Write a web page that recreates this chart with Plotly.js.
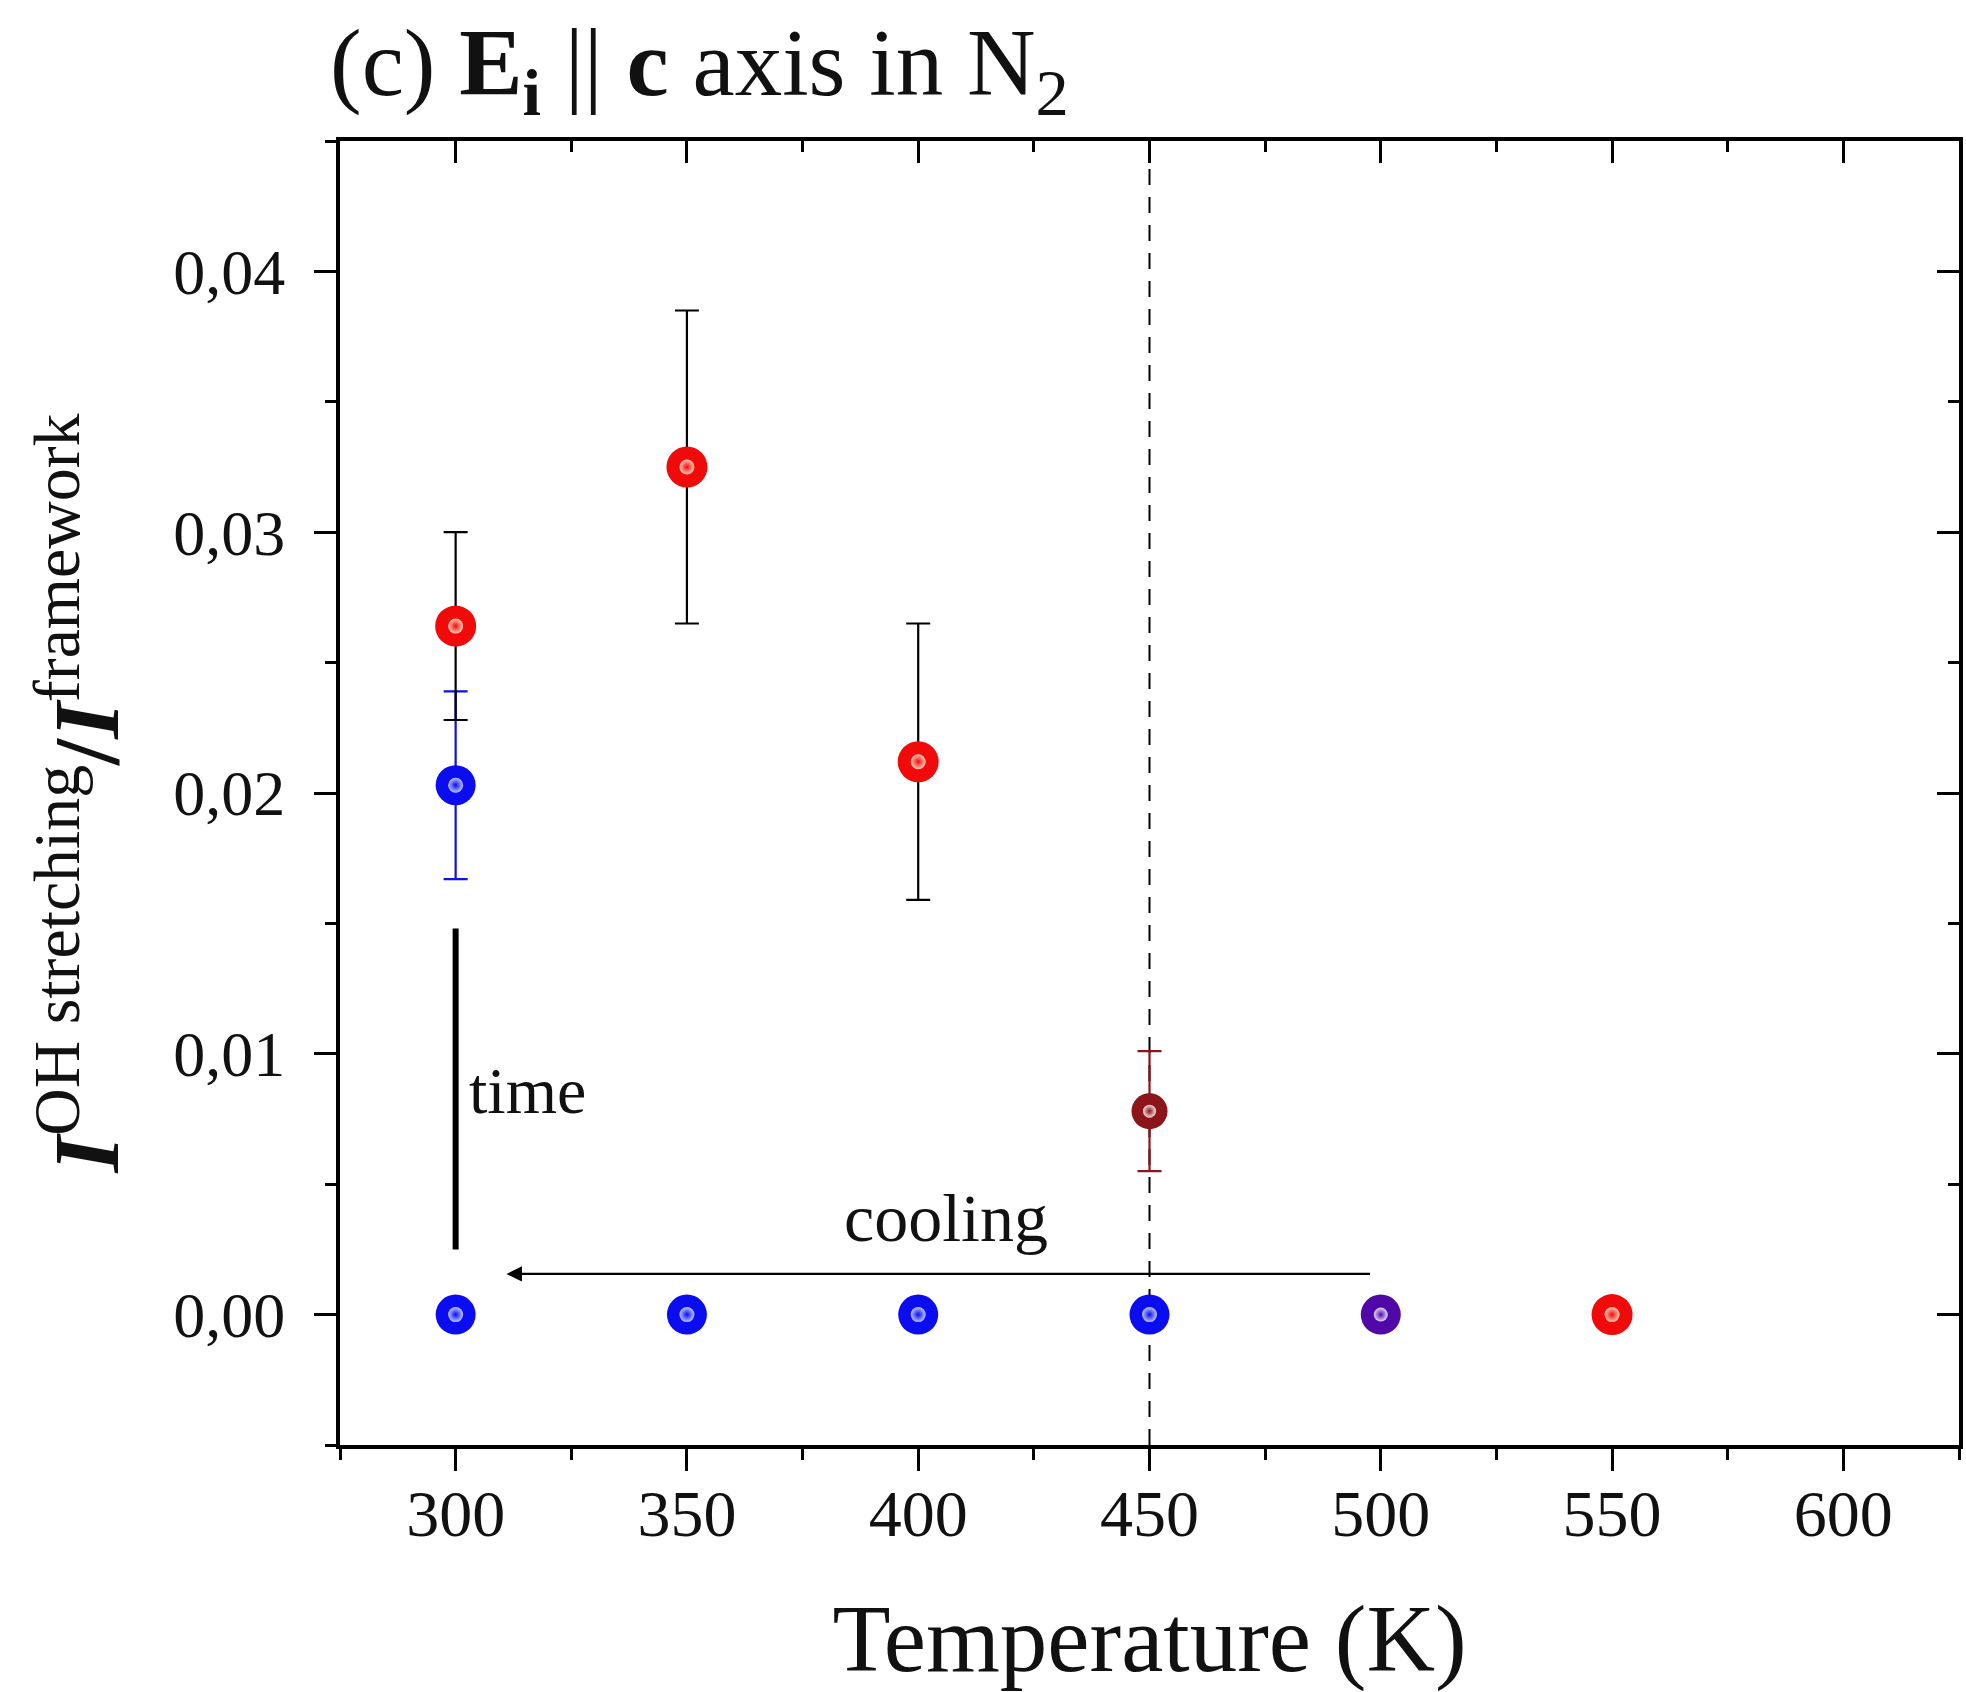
<!DOCTYPE html>
<html>
<head>
<meta charset="utf-8">
<script src="https://cdn.plot.ly/plotly-3.0.1.min.js"></script>
<style>html,body{margin:0;padding:0;background:#fff;}#chart{width:1966px;height:1692px;}</style>
</head>
<body>
<div id="chart"></div>
<script>
// ---- data ----
const redT    = [300, 350, 400, 550];
const redI    = [0.0264, 0.0325, 0.0212, 0.0];
const redErr  = [0.0036, 0.0060, 0.0053, 0];

const blueT   = [300, 300, 350, 400, 450];
const blueI   = [0.0203, 0.0, 0.0, 0.0, 0.0];
const blueErr = [0.0036, 0, 0, 0, 0];

const brownT   = [450];
const brownI   = [0.0078];
const brownErr = [0.0023];

const purpleT = [500];
const purpleI = [0.0];

const timeLineT = [300, 300];
const timeLineI = [0.0025, 0.0148];

const coolingFromT = [498];
const coolingToT   = [311];
const coolingI     = [0.00156];

const refLineT = [450];

const xTickVals = [300, 350, 400, 450, 500, 550, 600];
const xTickText = ['300', '350', '400', '450', '500', '550', '600'];
const yTickVals = [0, 0.01, 0.02, 0.03, 0.04];
const yTickText = ['0,00', '0,01', '0,02', '0,03', '0,04'];

// ---- styling ----
const FONT = 'Liberation Serif, Times New Roman, serif';
const xRange = [275, 625];
const yRange = [-0.005, 0.045];
const xMinor = [275, 325, 375, 425, 475, 525, 575, 625];
const yMinor = [-0.005, 0.005, 0.015, 0.025, 0.035, 0.045];

function errs(arr, color) {
  return {type: 'data', array: arr, visible: true, color: color, thickness: 2.2, width: 12};
}
function series(x, y, err, color, errColor, size) {
  const base = {x: x, y: y, mode: 'markers', showlegend: false,
    marker: {size: size, color: color, line: {width: 0}}};
  if (err) base.error_y = errs(err, errColor);
  return base;
}
function gloss(x, y, color, light, size) {
  return {x: x, y: y, mode: 'markers', showlegend: false, hoverinfo: 'skip',
    marker: {size: size, color: light, gradient: {type: 'radial', color: color}, line: {width: 0}}};
}

const traces = [
  {x: timeLineT, y: timeLineI, mode: 'lines', line: {color: '#000', width: 6}, showlegend: false, hoverinfo: 'skip'},
  series(blueT, blueI, blueErr, '#0c0cf0', '#1010e0', 40),
  gloss(blueT, blueI, '#0c0cf0', '#b8c4ff', 15),
  series(redT, redI, redErr, '#f00a0a', '#000', 41),
  gloss(redT, redI, '#f00a0a', '#ffc8b0', 15),
  series(brownT, brownI, brownErr, '#8b1518', '#8b1518', 36),
  gloss(brownT, brownI, '#8b1518', '#f4dcdc', 13),
  series(purpleT, purpleI, null, '#5008a8', null, 40),
  gloss(purpleT, purpleI, '#5008a8', '#e4d8ff', 14),
  // carrier for the mirrored top/right axes
  {x: [xRange[0]], y: [yRange[0]], xaxis: 'x2', yaxis: 'y2', mode: 'markers',
   marker: {opacity: 0}, showlegend: false, hoverinfo: 'skip'}
];

const axisCommon = {linecolor: '#000', linewidth: 4, showgrid: false, zeroline: false,
  tickcolor: '#000', tickwidth: 3, ticklen: 22};

const layout = {
  width: 1966, height: 1692,
  paper_bgcolor: '#fff', plot_bgcolor: '#fff',
  margin: {l: 340, r: 7, t: 141, b: 247},
  showlegend: false,
  font: {family: FONT, color: '#111'},
  title: {
    text: '(c) <b>E<sub>i</sub></b> || <b>c</b> axis in N<sub>2</sub>',
    font: {family: FONT, size: 95, color: '#111'},
    x: 330 / 1966, xanchor: 'left', xref: 'container',
    y: 1 - 62 / 1692, yanchor: 'middle', yref: 'container'
  },
  xaxis: Object.assign({}, axisCommon, {
    range: xRange, ticks: 'outside', tickvals: xTickVals, ticktext: xTickText,
    tickfont: {family: FONT, size: 66, color: '#111'},
    ticklabelstandoff: -14,
    minor: {tickvals: xMinor, ticks: 'outside', ticklen: 11, tickwidth: 3, tickcolor: '#000'},
    title: {text: 'Temperature (K)', font: {family: FONT, size: 95, color: '#111'}, standoff: 62},
    automargin: false
  }),
  yaxis: Object.assign({}, axisCommon, {
    range: yRange, ticks: 'outside', tickvals: yTickVals, ticktext: yTickText,
    tickfont: {family: FONT, size: 64, color: '#111'},
    ticklabelstandoff: 16,
    minor: {tickvals: yMinor, ticks: 'outside', ticklen: 11, tickwidth: 3, tickcolor: '#000'},
    title: {text: '<b><i>I</i></b><sup>OH stretching</sup><b>/</b><b><i>I</i></b><sup>framework</sup>',
            font: {family: FONT, size: 94, color: '#111'}, standoff: 24},
    automargin: false
  }),
  xaxis2: Object.assign({}, axisCommon, {
    overlaying: 'x', side: 'top', range: xRange, ticks: 'inside', tickvals: xTickVals,
    showticklabels: false,
    minor: {tickvals: xMinor, ticks: 'inside', ticklen: 11, tickwidth: 3, tickcolor: '#000'}
  }),
  yaxis2: Object.assign({}, axisCommon, {
    overlaying: 'y', side: 'right', range: yRange, ticks: 'inside', tickvals: yTickVals,
    showticklabels: false,
    minor: {tickvals: yMinor, ticks: 'inside', ticklen: 11, tickwidth: 3, tickcolor: '#000'}
  }),
  shapes: [
    {type: 'line', xref: 'x', yref: 'paper', x0: refLineT[0], x1: refLineT[0], y0: 0, y1: 1,
     line: {color: '#000', width: 2, dash: '16px,12px'}, layer: 'below'}
  ],
  annotations: [
    {x: coolingToT[0], y: coolingI[0], ax: coolingFromT[0], ay: coolingI[0], xref: 'x', yref: 'y',
     axref: 'x', ayref: 'y', text: '', showarrow: true, arrowhead: 2, arrowsize: 1.4,
     arrowwidth: 2.2, arrowcolor: '#000'},
    {x: 406, y: 0.0037, xref: 'x', yref: 'y', text: 'cooling', showarrow: false,
     font: {family: FONT, size: 68, color: '#111'}, xanchor: 'center', yanchor: 'middle'},
    {x: 302.5, y: 0.0086, xref: 'x', yref: 'y', text: 'time', showarrow: false,
     font: {family: FONT, size: 66, color: '#111'}, xanchor: 'left', yanchor: 'middle'}
  ]
};

Plotly.newPlot('chart', traces, layout, {staticPlot: true, displayModeBar: false});
</script>
</body>
</html>
